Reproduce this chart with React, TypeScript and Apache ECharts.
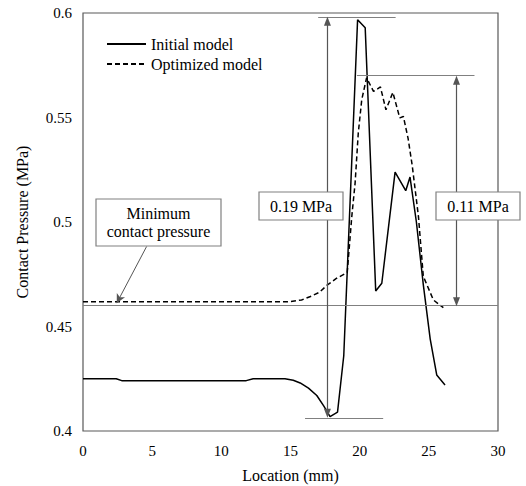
import React, { useEffect, useRef } from "react";
import * as echarts from "echarts";

// Location (mm) / contact pressure (MPa) samples for each model
const initialModel: [number, number][] = [
  [0, 0.425], [2.4, 0.425], [2.8, 0.4241], [11.8, 0.4241], [12.3, 0.425],
  [14.6, 0.425], [15.2, 0.4243], [15.7, 0.423], [16.3, 0.4205], [16.9, 0.417],
  [17.4, 0.412], [17.86, 0.4069], [18.4, 0.409], [18.85, 0.436], [19.85, 0.5968],
  [20.4, 0.5929], [21.16, 0.467], [21.6, 0.4707], [22.56, 0.5239], [23.33, 0.515],
  [23.64, 0.5215], [24.1, 0.5], [24.6, 0.47], [25.1, 0.444], [25.57, 0.4268],
  [26.17, 0.422],
];

const optimizedModel: [number, number][] = [
  [0, 0.4618], [14.8, 0.4618], [15.8, 0.4627], [16.5, 0.4645], [17.1, 0.4664],
  [17.67, 0.4699], [18.34, 0.4731], [19.1, 0.4758], [19.43, 0.5026], [19.67, 0.5186],
  [19.9, 0.5426], [20.15, 0.5585], [20.5, 0.569], [21.0, 0.5625], [21.5, 0.5646],
  [21.9, 0.5537], [22.4, 0.562], [22.9, 0.5498], [23.16, 0.5505], [23.5, 0.54],
  [23.8, 0.527], [24.25, 0.5026], [24.6, 0.474], [25.33, 0.4627], [26.05, 0.459],
];

const seriesNames = ["Initial model", "Optimized model"];
const xTicks = [0, 5, 10, 15, 20, 25, 30];
const yTicks = [0.4, 0.45, 0.5, 0.55, 0.6];

// Minimum contact pressure reference level
const minPressure = 0.4584;

// Reference bars and dimension arrows, in data units
const refBars: [number, number, number][] = [
  // [xStart, xEnd, y]
  [17.0, 22.6, 0.5978],
  [16.05, 21.7, 0.4061],
  [19.8, 28.3, 0.5703],
];
const dimArrows: [number, number, number][] = [
  // [x, yLow, yHigh]
  [17.67, 0.4085, 0.596],
  [27.0, 0.4619, 0.5678],
];
const calloutArrow: [number, number][] = [
  [4.6, 0.4883],
  [2.44, 0.4612],
];

const FONT = "Liberation Serif, Times New Roman, serif";
const GRAY = "#808080";

export default function App() {
  const ref = useRef<HTMLDivElement>(null);

  useEffect(() => {
    if (!ref.current) return;
    const chart = echarts.init(ref.current, undefined, { renderer: "svg" });

    const thin = { color: GRAY, width: 1.2, type: "solid" };
    const arrowLine = { color: "#555", width: 1.2, type: "solid" };

    const markLines: any[] = [
      { yAxis: minPressure, lineStyle: thin },
      ...refBars.map(([x0, x1, y]) => [
        { coord: [x0, y], lineStyle: thin },
        { coord: [x1, y] },
      ]),
      ...dimArrows.map(([x, y0, y1]) => [
        {
          coord: [x, y0],
          symbol: "triangle",
          symbolSize: [7, 9],
          lineStyle: arrowLine,
          itemStyle: { color: "#222" },
        },
        { coord: [x, y1], symbol: "triangle", symbolSize: [7, 9], itemStyle: { color: "#222" } },
      ]),
      [
        { coord: calloutArrow[0], lineStyle: { ...arrowLine, width: 1 } },
        { coord: calloutArrow[1], symbol: "arrow", symbolSize: [7, 9], itemStyle: { color: "#555" } },
      ],
    ];

    const boxStyle = { fill: "#fff", stroke: GRAY, lineWidth: 1.2 };
    const boxText = {
      fill: "#000",
      fontFamily: FONT,
      fontSize: 16,
      align: "center",
      verticalAlign: "middle",
    };
    const nameText = { fontFamily: FONT, fontSize: 16, color: "#000", fontWeight: "normal" };
    const tickText = { fontFamily: FONT, fontSize: 15, color: "#000", fontWeight: "normal" };

    chart.setOption({
      animation: false,
      backgroundColor: "#fff",
      textStyle: { fontFamily: FONT },
      grid: {
        left: 83,
        right: 28,
        top: 13,
        bottom: 55,
        show: true,
        outerBoundsMode: "none",
        containLabel: false,
        borderColor: "#595959",
        borderWidth: 1.2,
      },
      legend: {
        data: seriesNames,
        orient: "vertical",
        left: 106,
        top: 36,
        padding: 0,
        itemWidth: 39,
        itemHeight: 14,
        itemGap: 4,
        itemStyle: { opacity: 0 },
        textStyle: { fontFamily: FONT, fontSize: 16, color: "#000" },
      },
      xAxis: {
        type: "value",
        min: xTicks[0],
        max: xTicks[xTicks.length - 1],
        interval: 5,
        name: "Location (mm)",
        nameLocation: "middle",
        nameGap: 36,
        nameTextStyle: nameText,
        axisLine: { show: false },
        axisTick: { show: false },
        splitLine: { show: false },
        axisLabel: { ...tickText, margin: 12 },
      },
      yAxis: {
        type: "value",
        min: yTicks[0],
        max: yTicks[yTicks.length - 1],
        interval: 0.05,
        name: "Contact Pressure (MPa)",
        nameLocation: "middle",
        nameGap: 53,
        nameTextStyle: nameText,
        axisLine: { show: false },
        axisTick: { show: false },
        splitLine: { show: false },
        axisLabel: {
          ...tickText,
          margin: 11,
          formatter: (v: number) => String(+v.toFixed(2)),
        },
      },
      series: [
        {
          name: seriesNames[0],
          type: "line",
          data: initialModel,
          symbol: "none",
          lineStyle: { color: "#000", width: 1.5, type: "solid" },
          itemStyle: { color: "#000" },
          z: 3,
        },
        {
          name: seriesNames[1],
          type: "line",
          data: optimizedModel,
          symbol: "none",
          lineStyle: { color: "#000", width: 1.5, type: [5, 3] },
          itemStyle: { color: "#000" },
          z: 3,
        },
        {
          name: "annotations",
          type: "line",
          data: [],
          silent: true,
          z: 2,
          markLine: {
            silent: true,
            animation: false,
            symbol: ["none", "none"],
            label: { show: false },
            emphasis: { disabled: true },
            data: markLines,
          },
        },
      ],
      graphic: [
        {
          type: "group",
          children: [
            { type: "rect", shape: { x: 259, y: 192, width: 84, height: 28 }, style: boxStyle, z: 10 },
            { type: "text", x: 301, y: 206, style: { ...boxText, text: "0.19 MPa" }, z: 11 },
            { type: "rect", shape: { x: 436, y: 192, width: 84, height: 28 }, style: boxStyle, z: 10 },
            { type: "text", x: 478, y: 206, style: { ...boxText, text: "0.11 MPa" }, z: 11 },
            { type: "rect", shape: { x: 96, y: 199, width: 125, height: 47 }, style: boxStyle, z: 10 },
            {
              type: "text",
              x: 158.5,
              y: 222.5,
              style: { ...boxText, text: "Minimum\ncontact pressure", lineHeight: 18 },
              z: 11,
            },
          ],
        },
      ],
    });

    return () => chart.dispose();
  }, []);

  return (
    <div
      ref={ref}
      style={{ position: "fixed", left: 0, top: 0, width: 526, height: 486 }}
    />
  );
}
